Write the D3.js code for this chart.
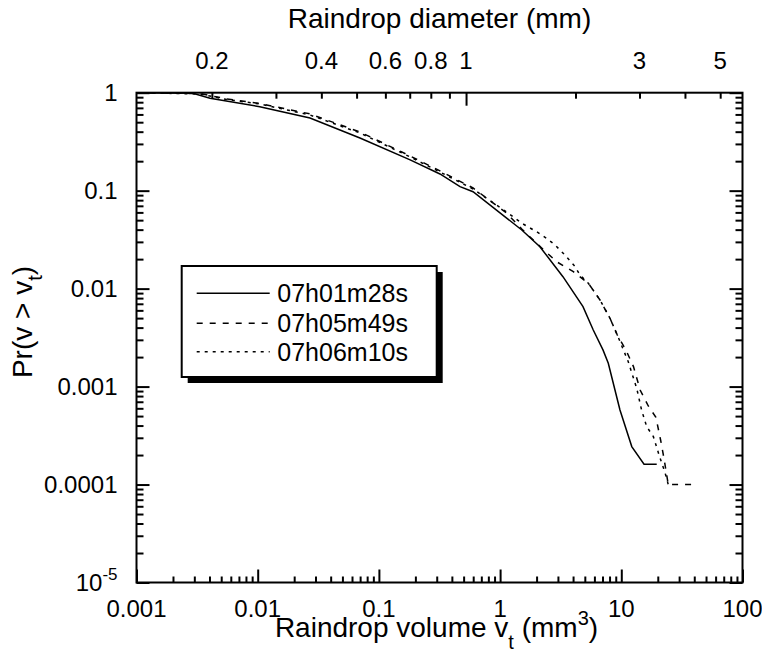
<!DOCTYPE html>
<html lang="en">
<head>
    <meta charset="UTF-8">
    <title>Raindrop volume distribution</title>
    <script src="https://cdn.jsdelivr.net/npm/d3@7/dist/d3.min.js"></script>
    <style>
        body { margin: 0; background: #fff; }
        text { font-family: "Liberation Sans", Arial, Helvetica, sans-serif; fill: #000; }
    </style>
</head>
<body>
<div id="d3"></div>
<script>
    var width = 762;
    var height = 668;

    // series: raindrop volume (mm^3) and exceedance probability
    var names = ["07h01m28s", "07h05m49s", "07h06m10s"];

    var vol1 = [0.001, 0.00292, 0.00404, 0.0104, 0.027, 0.0698, 0.181, 0.319, 0.467, 0.598, 1.51, 2.13, 3.30, 4.83, 5.87, 7.06, 7.81, 9.75, 12.2, 15.4, 19.6];
    var prob1 = [1, 0.986, 0.877, 0.72, 0.552, 0.345, 0.206, 0.148, 0.110, 0.0976, 0.0397, 0.0268, 0.01324, 0.00654, 0.00378, 0.00237, 0.00173, 0.000577, 0.000244, 0.000161, 0.000161];

    var vol2 = [0.001, 0.00334, 0.00558, 0.0104, 0.027, 0.0698, 0.181, 0.319, 0.598, 1.13, 1.51, 2.07, 2.93, 4.02, 5.35, 6.67, 8.07, 9.27, 10.9, 12.6, 14.3, 16.7, 19.3, 21.1, 22.5, 24.4, 38.1];
    var prob2 = [1, 0.98, 0.863, 0.776, 0.607, 0.397, 0.226, 0.159, 0.1065, 0.0592, 0.0406, 0.0279, 0.0188, 0.0149, 0.01133, 0.00766, 0.00498, 0.00336, 0.00237, 0.0016, 0.000923, 0.000634, 0.000486, 0.000285, 0.000185, 0.0001, 0.0001];

    var vol3 = [0.001, 0.00334, 0.00558, 0.0104, 0.027, 0.0698, 0.181, 0.319, 0.598, 1.13, 1.51, 2.0, 2.42, 2.84, 3.43, 4.15, 4.56, 5.35, 6.67, 8.07, 9.27, 11.4, 13.4, 14.7, 16.2, 18.4, 20.5, 23.0, 24.4];
    var prob3 = [1, 0.97, 0.852, 0.767, 0.592, 0.388, 0.221, 0.155, 0.104, 0.0606, 0.0465, 0.0381, 0.0326, 0.0279, 0.022, 0.0168, 0.01377, 0.01133, 0.00766, 0.00498, 0.00336, 0.0018, 0.00096, 0.000577, 0.00039, 0.000308, 0.0002, 0.000131, 0.0001];

    var xTickLabels = ["0.001", "0.01", "0.1", "1", "10", "100"];
    var yTickLabels = ["1", "0.1", "0.01", "0.001", "0.0001"];
    var diamTicks = [0.2, 0.3, 0.4, 0.5, 0.6, 0.7, 0.8, 0.9, 1, 2, 3, 4, 5];
    var diamLabels = [0.2, 0.4, 0.6, 0.8, 1, 3, 5];

    // plot frame (note: "top" is reserved on window)
    var pLeft = 136.5, pRight = 742.5, pTop = 92.7, pBottom = 582.5;

    var x = d3.scaleLog().domain([0.001, 100]).range([pLeft, pRight]);
    var y = d3.scaleLog().domain([1e-5, 1]).range([pBottom, pTop]);

    // volume of a sphere from its diameter
    function volume(d) {
        return Math.PI / 6 * d * d * d;
    }

    function logTicks(lo, hi) {
        var t = [];
        for (var e = lo; e < hi; e++) {
            for (var k = 1; k < 10; k++) t.push(k * Math.pow(10, e));
        }
        t.push(Math.pow(10, hi));
        return t;
    }
    function isMajor(v) {
        var l = Math.log10(v);
        return Math.abs(l - Math.round(l)) < 1e-9;
    }

    var svg = d3.select("#d3")
            .append("svg")
            .attr("width", width)
            .attr("height", height);

    var xt = logTicks(-3, 2);
    var yt = logTicks(-5, 0);

    // bottom axis, ticks inward
    var gx = svg.append("g")
            .attr("transform", "translate(0," + pBottom + ")")
            .call(d3.axisBottom(x).tickValues(xt).tickSizeOuter(0).tickFormat(""));
    gx.selectAll(".tick line").attr("y2", function (d) { return isMajor(d) ? -13 : -6; });

    svg.append("g").selectAll("text")
            .data(xTickLabels)
            .enter()
            .append("text")
            .attr("x", function (d) { return x(+d); })
            .attr("y", pBottom + 34)
            .attr("text-anchor", "middle")
            .style("font-size", "24px")
            .text(function (d) { return d; });

    // top axis: raindrop diameter
    var gTop = svg.append("g")
            .attr("transform", "translate(0," + pTop + ")")
            .call(d3.axisTop(x).tickValues(diamTicks.map(volume)).tickSizeOuter(0).tickFormat(""));
    gTop.selectAll(".tick line").attr("y2", function (d, i) { return diamTicks[i] === 1 ? 13 : 6; });

    svg.append("g").selectAll("text")
            .data(diamLabels)
            .enter()
            .append("text")
            .attr("x", function (d) { return x(volume(d)); })
            .attr("y", pTop - 24)
            .attr("text-anchor", "middle")
            .style("font-size", "24px")
            .text(function (d) { return d; });

    // left and right axes
    var gy = svg.append("g")
            .attr("transform", "translate(" + pLeft + ",0)")
            .call(d3.axisLeft(y).tickValues(yt).tickSizeOuter(0).tickFormat(""));
    gy.selectAll(".tick line").attr("x2", function (d) { return isMajor(d) ? 13 : 7; });

    var gy2 = svg.append("g")
            .attr("transform", "translate(" + pRight + ",0)")
            .call(d3.axisRight(y).tickValues(yt).tickSizeOuter(0).tickFormat(""));
    gy2.selectAll(".tick line").attr("x2", function (d) { return isMajor(d) ? -13 : -7; });

    svg.selectAll(".tick line").attr("stroke", "#000").attr("stroke-width", 2);
    svg.selectAll(".domain").remove();

    svg.append("g").selectAll("text")
            .data(yTickLabels)
            .enter()
            .append("text")
            .attr("x", pLeft - 19)
            .attr("y", function (d) { return y(+d); })
            .attr("dy", "0.36em")
            .attr("text-anchor", "end")
            .style("font-size", "24px")
            .text(function (d) { return d; });

    var t5 = svg.append("text")
            .attr("x", pLeft - 19)
            .attr("y", y(1e-5) + 8)
            .attr("text-anchor", "end")
            .style("font-size", "24px");
    t5.append("tspan").text("10");
    t5.append("tspan").attr("dy", "-11").style("font-size", "17px").text("-5");

    // frame
    svg.append("rect")
            .attr("x", pLeft)
            .attr("y", pTop)
            .attr("width", pRight - pLeft)
            .attr("height", pBottom - pTop)
            .attr("fill", "none")
            .attr("stroke", "#000")
            .attr("stroke-width", 2);

    // curves
    var line = d3.line()
            .x(function (d) { return x(d[0]); })
            .y(function (d) { return y(d[1]); });

    var dashes = [null, "6,7", "3,5"];
    var series = [d3.zip(vol1, prob1), d3.zip(vol2, prob2), d3.zip(vol3, prob3)];

    svg.append("g").selectAll("path")
            .data(series)
            .enter()
            .append("path")
            .attr("d", line)
            .attr("fill", "none")
            .attr("stroke", "#000")
            .attr("stroke-width", 1.5)
            .attr("stroke-dasharray", function (d, i) { return dashes[i]; });

    // axis titles
    svg.append("text")
            .attr("x", (pLeft + pRight) / 2)
            .attr("y", 28)
            .attr("text-anchor", "middle")
            .style("font-size", "28px")
            .text("Raindrop diameter (mm)");

    var xTitle = svg.append("text")
            .attr("x", (pLeft + pRight) / 2 - 3)
            .attr("y", 637)
            .attr("text-anchor", "middle")
            .style("font-size", "28px");
    xTitle.append("tspan").text("Raindrop volume v");
    xTitle.append("tspan").attr("dy", 12).style("font-size", "20px").text("t");
    xTitle.append("tspan").attr("dy", -12).text(" (mm");
    xTitle.append("tspan").attr("dy", -12).style("font-size", "20px").text("3");
    xTitle.append("tspan").attr("dy", 12).text(")");

    var yTitle = svg.append("text")
            .attr("transform", "translate(32,322) rotate(-90)")
            .attr("text-anchor", "middle")
            .style("font-size", "28px");
    yTitle.append("tspan").text("Pr(v > v");
    yTitle.append("tspan").attr("dy", 10).style("font-size", "20px").text("t");
    yTitle.append("tspan").attr("dy", -10).text(")");

    // legend with drop shadow
    var legendArea = svg.append("g")
            .attr("transform", "translate(181.7,266)");

    legendArea.append("rect")
            .attr("x", 6)
            .attr("y", 6)
            .attr("width", 255)
            .attr("height", 111)
            .attr("fill", "#000");

    legendArea.append("rect")
            .attr("width", 255)
            .attr("height", 111)
            .attr("fill", "#fff")
            .attr("stroke", "#000")
            .attr("stroke-width", 2);

    var legend = legendArea.selectAll("g")
            .data(names)
            .enter()
            .append("g")
            .attr("transform", function (d, i) {
                return "translate(0," + [27.3, 57.3, 85.7][i] + ")";
            });

    legend.append("line")
            .attr("x1", 15)
            .attr("x2", 88)
            .attr("stroke", "#000")
            .attr("stroke-width", 1.5)
            .attr("stroke-dasharray", function (d, i) { return dashes[i]; });

    legend.append("text")
            .attr("x", 95.6)
            .attr("dy", "0.36em")
            .style("font-size", "25px")
            .text(function (d) { return d; });
</script>
</body>
</html>
